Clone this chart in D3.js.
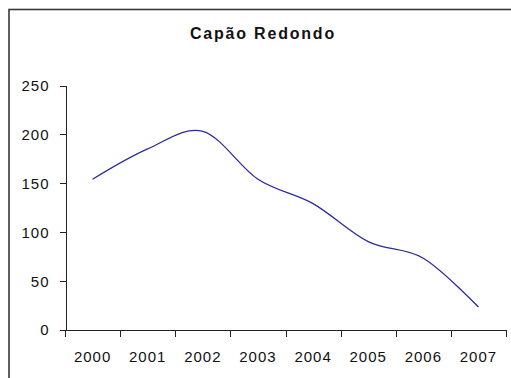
<!DOCTYPE html>
<html>
<head>
<meta charset="utf-8">
<script src="https://cdn.jsdelivr.net/npm/d3@7"></script>
<style>
  html, body { margin: 0; padding: 0; background: #fff; }
  svg { display: block; font-family: "Liberation Sans", Arial, sans-serif; }
  .axis path, .axis line { stroke: #222; shape-rendering: crispEdges; }
  .axis text { fill: #111; font-size: 15px; letter-spacing: 1px; }
</style>
</head>
<body>
<div id="chart"></div>
<script>
// chart data
const title = "Capão Redondo";
const years = ["2000", "2001", "2002", "2003", "2004", "2005", "2006", "2007"];
const values = [154, 185, 203, 154, 129, 90, 73, 23];
const yTicks = [0, 50, 100, 150, 200, 250];

const width = 511, height = 378;
const plot = { left: 65, right: 506, top: 85.5, bottom: 329.5 };

const svg = d3.select("#chart").append("svg")
  .attr("width", width)
  .attr("height", height);

svg.append("rect").attr("width", width).attr("height", height).attr("fill", "#fff");

// outer frame (runs off the right and bottom edges)
svg.append("rect")
  .attr("x", 9).attr("y", 9.5)
  .attr("width", 540).attr("height", 400)
  .attr("fill", "none")
  .attr("stroke", "#3a3a3a")
  .attr("stroke-width", 1.6);

svg.append("text")
  .attr("x", 263).attr("y", 39)
  .attr("text-anchor", "middle")
  .attr("font-size", 16)
  .attr("font-weight", "bold")
  .attr("letter-spacing", 1.8)
  .attr("fill", "#111")
  .text(title);

const x = d3.scaleBand().domain(years).range([plot.left, plot.right]).padding(0);
const xEdges = d3.scaleLinear().domain([0, years.length]).range([plot.left, plot.right]);
const y = d3.scaleLinear().domain([0, 250]).range([plot.bottom, plot.top]);

// y axis
svg.append("g")
  .attr("class", "axis")
  .attr("transform", `translate(${plot.left + 0.5},0)`)
  .call(d3.axisLeft(y).tickValues(yTicks).tickSize(6).tickPadding(10).tickSizeOuter(0))
  .call(g => g.selectAll("text").attr("dy", "0.36em"));

// x axis: tick marks at category boundaries
svg.append("g")
  .attr("class", "axis")
  .attr("transform", `translate(0,${plot.bottom})`)
  .call(d3.axisBottom(xEdges).tickValues(d3.range(years.length + 1)).tickFormat("").tickSize(7).tickSizeOuter(0));

// x labels centred in each category
svg.append("g")
  .attr("class", "axis")
  .attr("transform", `translate(0,${plot.bottom})`)
  .call(d3.axisBottom(x).tickSize(0).tickPadding(22))
  .call(g => g.select(".domain").remove());

const line = d3.line()
  .x((d, i) => x(years[i]) + x.bandwidth() / 2)
  .y(d => y(d))
  .curve(d3.curveCatmullRom.alpha(0));

svg.append("path")
  .datum(values)
  .attr("fill", "none")
  .attr("stroke", "#2b2b9c")
  .attr("stroke-width", 1.3)
  .attr("d", line);
</script>
</body>
</html>
